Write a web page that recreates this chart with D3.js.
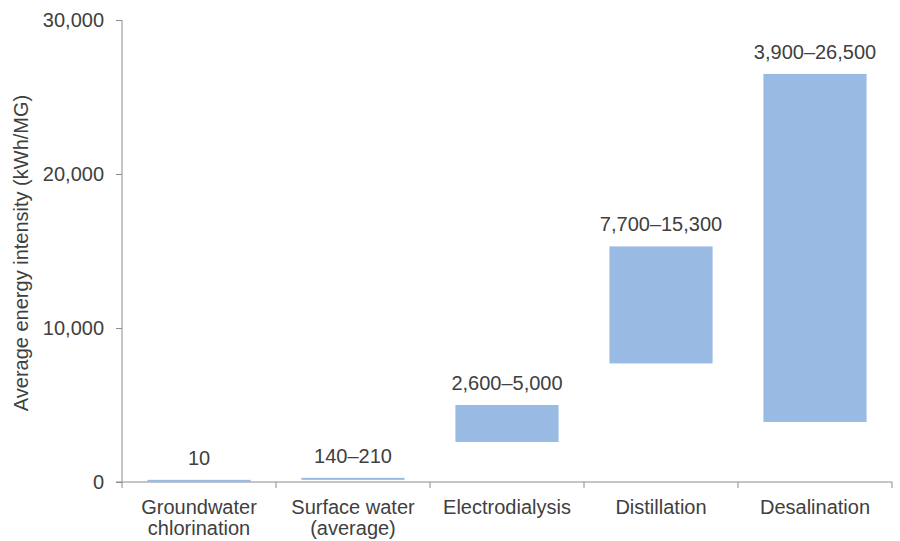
<!DOCTYPE html>
<html>
<head>
<meta charset="utf-8">
<script src="https://cdn.jsdelivr.net/npm/d3@7"></script>
<style>
  html, body { margin: 0; padding: 0; background: #fff; }
  svg { display: block; font-family: "Liberation Sans", Arial, sans-serif; }
</style>
</head>
<body>
<svg id="chart" width="900" height="541"></svg>
<script>
// Energy intensity ranges of water supply and treatment processes
const categories = [
  ["Groundwater", "chlorination"],
  ["Surface water", "(average)"],
  ["Electrodialysis"],
  ["Distillation"],
  ["Desalination"]
];
const lowValues  = [10, 140, 2600, 7700, 3900];
const highValues = [10, 210, 5000, 15300, 26500];
const rangeLabels = ["10", "140–210", "2,600–5,000", "7,700–15,300", "3,900–26,500"];
const yTicks = [0, 10000, 20000, 30000];
const yTitle = "Average energy intensity (kWh/MG)";

const svg = d3.select("#chart");
const margin = { left: 122, right: 8, top: 20, bottom: 59 };
const W = 900, H = 541;
const fontSize = 20;
const textColor = "#404040";
const axisColor = "#8c8c8c";
const barColor = "#98bae3";

const x = d3.scaleBand()
  .domain(d3.range(categories.length))
  .range([margin.left, W - margin.right])
  .paddingInner(0.33)
  .paddingOuter(0.165);

const y = d3.scaleLinear()
  .domain([0, 30000])
  .range([H - margin.bottom, margin.top]);

// Y axis
const yAxis = svg.append("g")
  .attr("transform", `translate(${margin.left},0)`)
  .call(d3.axisLeft(y).tickValues(yTicks).tickSize(6).tickPadding(12)
    .tickFormat(d3.format(",")));
yAxis.select(".domain").attr("stroke", axisColor).attr("d", `M0,${y(30000)}V${y(0)}`);
yAxis.selectAll(".tick line").attr("stroke", axisColor);
yAxis.selectAll(".tick text").attr("fill", textColor).attr("font-size", fontSize)
  .attr("font-family", "Liberation Sans, Arial, sans-serif");

// X axis with ticks at category boundaries
const step = x.step();
const x0 = x(0) - x.paddingOuter() * step;
const bounds = d3.range(categories.length + 1).map(i => x0 + i * step);
const xAxisG = svg.append("g");
xAxisG.append("line")
  .attr("x1", margin.left - 6).attr("x2", bounds[bounds.length - 1])
  .attr("y1", y(0)).attr("y2", y(0))
  .attr("stroke", axisColor);
xAxisG.selectAll("line.tk").data(bounds).join("line")
  .attr("class", "tk")
  .attr("x1", d => d).attr("x2", d => d)
  .attr("y1", y(0)).attr("y2", y(0) + 6)
  .attr("stroke", axisColor);

// Category labels
const catG = svg.append("g")
  .attr("fill", textColor).attr("font-size", fontSize).attr("text-anchor", "middle");
categories.forEach((lines, i) => {
  const cx = x(i) + x.bandwidth() / 2;
  const t = catG.append("text").attr("x", cx).attr("y", y(0) + 32);
  lines.forEach((ln, j) => {
    t.append("tspan").attr("x", cx).attr("dy", j === 0 ? 0 : 21).text(ln);
  });
});

// Range bars (floating between low and high values)
const data = categories.map((c, i) => ({ i, lo: lowValues[i], hi: highValues[i], label: rangeLabels[i] }));
const barTop = d => Math.min(y(d.hi), y(d.lo) - 2);
svg.append("g").selectAll("rect").data(data).join("rect")
  .attr("x", d => x(d.i))
  .attr("width", x.bandwidth())
  .attr("y", barTop)
  .attr("height", d => Math.max(y(d.lo) - y(d.hi), 2))
  .attr("fill", barColor);

// Range labels above bars
svg.append("g").selectAll("text").data(data).join("text")
  .attr("x", d => x(d.i) + x.bandwidth() / 2)
  .attr("y", d => barTop(d) - 15)
  .attr("text-anchor", "middle")
  .attr("font-size", fontSize)
  .attr("fill", textColor)
  .text(d => d.label);

// Y axis title
svg.append("text")
  .attr("transform", `translate(28,${(y(0) + y(30000)) / 2 + 2}) rotate(-90)`)
  .attr("text-anchor", "middle")
  .attr("font-size", fontSize)
  .attr("fill", textColor)
  .text(yTitle);
</script>
</body>
</html>
